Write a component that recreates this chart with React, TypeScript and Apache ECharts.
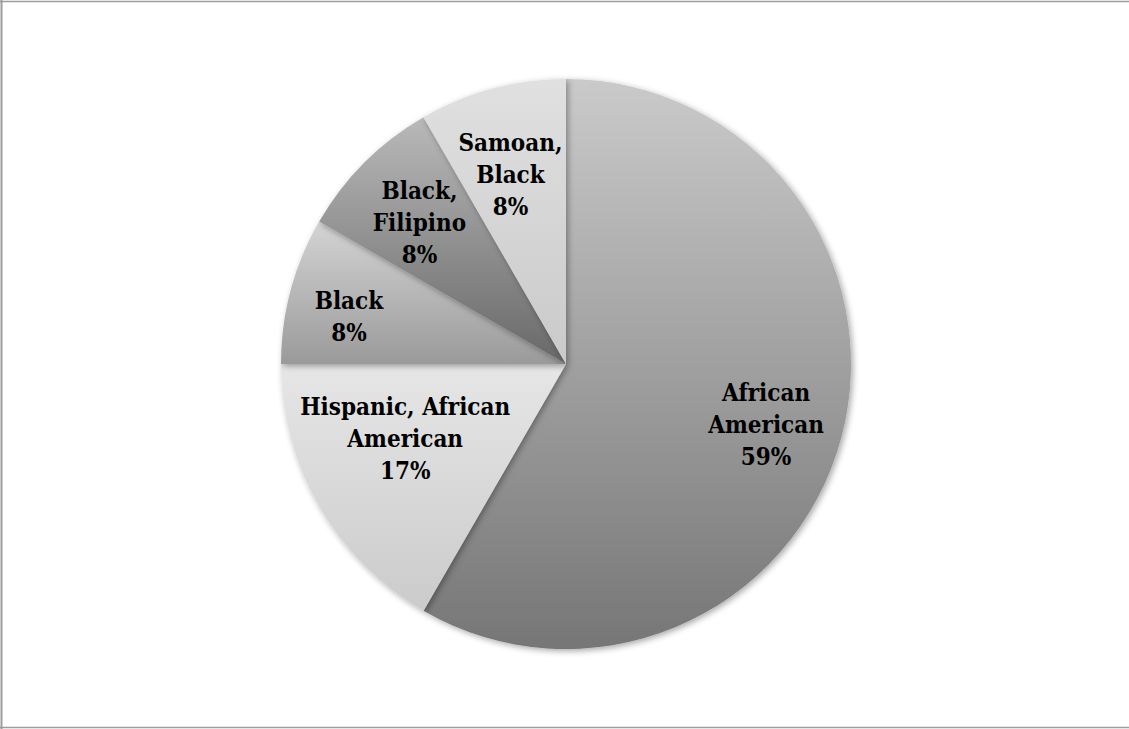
import React, { useEffect, useRef } from "react";
import * as echarts from "echarts";

const categories = ["African\nAmerican", "Hispanic, African\nAmerican", "Black", "Black,\nFilipino", "Samoan,\nBlack"];
const counts = [7, 2, 1, 1, 1];
const percentLabels = ["59%", "17%", "8%", "8%", "8%"];
const topColors = ["#cacaca", "#e6e6e6", "#d4d4d4", "#b9b9b9", "#e0e0e0"];
const bottomColors = ["#767676", "#cbcbcb", "#9a9a9a", "#686868", "#cacaca"];
const labelNudge: [number, number][] = [[4, 8], [15, -27], [-21, 5], [-3, 2], [-3, 7]];

export default function App() {
  const ref = useRef<HTMLDivElement>(null);
  useEffect(() => {
    const chart = echarts.init(ref.current!, null, { renderer: "svg" });
    const font = "'DejaVu Serif Condensed', 'DejaVu Serif', serif";
    const slices = counts.map((v, i) => ({
      name: categories[i],
      value: v,
      itemStyle: {
        color: new echarts.graphic.LinearGradient(0, 0, 0, 1, [
          { offset: 0, color: topColors[i] },
          { offset: 1, color: bottomColors[i] },
        ]),
      },
    }));
    chart.setOption({
      animation: false,
      backgroundColor: "#ffffff",
      graphic: [
        { type: "line", shape: { x1: 1.5, y1: 0, x2: 1.5, y2: 729 }, style: { stroke: "#9c9c9c", lineWidth: 2 } },
        { type: "line", shape: { x1: 0, y1: 1.5, x2: 1129, y2: 1.5 }, style: { stroke: "#9c9c9c", lineWidth: 1.5 } },
        { type: "line", shape: { x1: 0, y1: 727.5, x2: 1129, y2: 727.5 }, style: { stroke: "#9c9c9c", lineWidth: 1.5 } },
      ],
      series: [
        {
          type: "pie",
          center: [566, 364],
          radius: [0, 285],
          startAngle: 90,
          clockwise: true,
          silent: true,
          avoidLabelOverlap: false,
          label: { show: false },
          labelLine: { show: false },
          itemStyle: {
            shadowColor: "rgba(0,0,0,0.35)",
            shadowBlur: 6,
            shadowOffsetX: 2,
            shadowOffsetY: 2,
          },
          data: slices,
        },
        {
          type: "pie",
          center: [566, 364],
          radius: [115, 285],
          startAngle: 90,
          clockwise: true,
          silent: true,
          avoidLabelOverlap: false,
          labelLayout: { hideOverlap: false },
          z: 3,
          itemStyle: { color: "rgba(0,0,0,0)" },
          labelLine: { show: false },
          label: {
            show: true,
            position: "inside",
            color: "#000000",
            fontFamily: font,
            fontWeight: "bold",
            fontSize: 24,
            lineHeight: 32,
            align: "center",
          },
          data: counts.map((v, i) => ({
            name: categories[i],
            value: v,
            label: {
              formatter: `${categories[i]}\n${percentLabels[i]}`,
              offset: labelNudge[i],
            },
          })),
        },
      ],
    });
    return () => chart.dispose();
  }, []);
  return (
    <div
      ref={ref}
      style={{ position: "fixed", left: 0, top: 0, width: 1129, height: 729 }}
    />
  );
}
